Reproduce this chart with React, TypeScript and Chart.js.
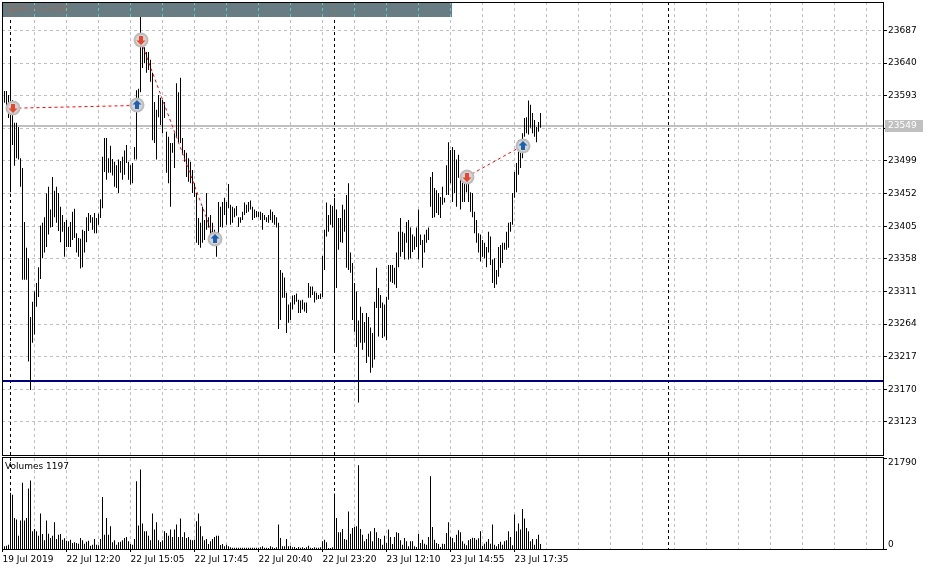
import React, { useEffect, useRef } from "react";
import { Chart, registerables } from "chart.js";

Chart.register(...registerables);

const FONT = "DejaVu Sans";
const FS = 9;

const symbolTitle = "SBRF-9.19,M5";
const volumeTitle = "Volumes 1197";

const highs = [
  23600, 23600, 23594, 23650, 23587, 23554, 23554, 23548, 23503, 23489,
  23411, 23374, 23359, 23274, 23296, 23311, 23323, 23346, 23406, 23410,
  23418, 23452, 23462, 23429, 23476, 23456, 23462, 23453, 23433, 23421,
  23411, 23414, 23404, 23411, 23426, 23430, 23395, 23388, 23387, 23400,
  23398, 23418, 23424, 23421, 23418, 23424, 23417, 23423, 23444, 23505,
  23532, 23532, 23503, 23521, 23502, 23498, 23493, 23501, 23499, 23505,
  23514, 23522, 23498, 23493, 23496, 23519, 23601, 23603, 23709, 23676,
  23663, 23656, 23656, 23645, 23626, 23584, 23573, 23594, 23590, 23587,
  23584, 23541, 23534, 23525, 23525, 23539, 23611, 23598, 23619, 23532,
  23515, 23511, 23503, 23498, 23486, 23467, 23453, 23417, 23410, 23433,
  23414, 23453, 23418, 23421, 23410, 23400, 23385, 23440, 23433, 23440,
  23446, 23440, 23466, 23436, 23433, 23431, 23434, 23418, 23418, 23426,
  23439, 23436, 23440, 23442, 23433, 23429, 23427, 23426, 23426, 23424,
  23421, 23418, 23421, 23429, 23426, 23421, 23418, 23410, 23342, 23338,
  23331, 23309, 23292, 23295, 23305, 23306, 23308, 23299, 23298, 23299,
  23295, 23295, 23323, 23318, 23318, 23311, 23309, 23306, 23308, 23362,
  23400, 23439, 23421, 23436, 23434, 23446, 23429, 23417, 23417, 23436,
  23429, 23450, 23467, 23367, 23352, 23323, 23311, 23269, 23289, 23280,
  23267, 23280, 23274, 23259, 23251, 23296, 23345, 23316, 23306, 23295,
  23292, 23303, 23349, 23349, 23349, 23345, 23367, 23397, 23417, 23397,
  23395, 23411, 23414, 23403, 23393, 23390, 23403, 23429, 23393, 23385,
  23393, 23400, 23403, 23476, 23483, 23460, 23457, 23453, 23447, 23462,
  23446, 23493, 23526, 23515, 23519, 23515, 23501, 23508, 23475, 23476,
  23482, 23476, 23467, 23454, 23453, 23426, 23414, 23395, 23393, 23385,
  23381, 23375, 23397, 23390, 23357, 23359, 23342, 23375, 23378, 23381,
  23381, 23397, 23410, 23411, 23453, 23483, 23496, 23529, 23526, 23539,
  23561, 23562, 23586, 23580, 23568, 23558, 23548, 23555, 23568,
];

const lows = [
  23583, 23573, 23561, 23454, 23522, 23492, 23503, 23501, 23462, 23328,
  23328, 23328, 23210, 23169, 23237, 23249, 23289, 23303, 23329, 23359,
  23367, 23375, 23393, 23403, 23404, 23418, 23410, 23398, 23382, 23397,
  23361, 23375, 23375, 23375, 23385, 23388, 23367, 23361, 23344, 23346,
  23367, 23382, 23398, 23410, 23400, 23395, 23395, 23407, 23417, 23431,
  23483, 23472, 23482, 23482, 23478, 23462, 23460, 23453, 23482, 23472,
  23479, 23496, 23472, 23465, 23467, 23501, 23501, 23570, 23598, 23633,
  23640, 23626, 23630, 23613, 23529, 23525, 23501, 23562, 23551, 23539,
  23561, 23482, 23467, 23433, 23511, 23489, 23532, 23525, 23525, 23508,
  23498, 23476, 23469, 23467, 23453, 23447, 23381, 23378, 23374, 23381,
  23385, 23400, 23403, 23393, 23390, 23381, 23361, 23395, 23404, 23403,
  23421, 23407, 23431, 23407, 23410, 23418, 23420, 23404, 23410, 23414,
  23421, 23424, 23426, 23429, 23414, 23417, 23418, 23418, 23414, 23400,
  23414, 23411, 23410, 23414, 23410, 23407, 23403, 23257, 23270, 23302,
  23302, 23251, 23266, 23270, 23285, 23292, 23296, 23280, 23280, 23285,
  23282, 23280, 23302, 23302, 23306, 23295, 23299, 23300, 23300, 23303,
  23342, 23390, 23397, 23407, 23403, 23223, 23316, 23371, 23382, 23381,
  23397, 23345, 23342, 23338, 23270, 23253, 23231, 23151, 23237, 23227,
  23237, 23208, 23217, 23194, 23201, 23213, 23287, 23246, 23287, 23244,
  23246, 23241, 23299, 23325, 23323, 23321, 23316, 23346, 23361, 23368,
  23357, 23381, 23357, 23359, 23368, 23371, 23375, 23357, 23378, 23345,
  23367, 23381, 23385, 23433, 23417, 23418, 23424, 23421, 23417, 23436,
  23439, 23450, 23450, 23467, 23440, 23453, 23433, 23475, 23429, 23440,
  23440, 23454, 23440, 23426, 23418, 23395, 23381, 23367, 23354, 23361,
  23359, 23346, 23367, 23349, 23323, 23316, 23321, 23332, 23345, 23352,
  23371, 23371, 23374, 23397, 23407, 23446, 23454, 23479, 23489, 23503,
  23534, 23539, 23537, 23547, 23539, 23534, 23526, 23541, 23547,
];

const volumes = [
  640, 800, 1040, 13440, 13000, 7440, 7040, 3200, 6800, 15840,
  6800, 7440, 14480, 16400, 4240, 4800, 4240, 3200, 8480, 3600,
  2080, 6800, 3680, 2640, 3200, 6400, 2400, 3440, 3600, 2240,
  2560, 2000, 1840, 2240, 1440, 1600, 1440, 1280, 2640, 2080,
  1280, 1760, 2000, 800, 1040, 2400, 1040, 880, 2400, 12480,
  3440, 7440, 3440, 5440, 1600, 2080, 1040, 1600, 1760, 2080,
  2640, 2880, 1840, 1200, 1040, 2400, 16240, 5600, 19040, 6080,
  4240, 4240, 3200, 2080, 8480, 4640, 6400, 2080, 1680, 2080,
  4240, 3840, 3200, 4640, 2880, 4640, 5840, 2880, 7280, 2880,
  4000, 2640, 2880, 2240, 2080, 2240, 6640, 8480, 5440, 3040,
  2080, 2400, 1200, 1840, 2400, 2880, 3200, 3200, 960, 1200,
  640, 1040, 640, 400, 320, 320, 320, 320, 320, 320,
  320, 320, 320, 320, 320, 320, 320, 320, 400, 640,
  320, 320, 240, 640, 400, 240, 400, 5840, 2640, 640,
  640, 2400, 640, 800, 400, 480, 240, 480, 320, 400,
  240, 400, 800, 320, 240, 400, 320, 320, 400, 1840,
  2240, 1600, 240, 240, 400, 13280, 7440, 4000, 4000, 4800,
  2400, 2240, 8960, 3680, 5040, 5280, 5440, 20080, 4800, 3440,
  1840, 2400, 3680, 4240, 1840, 5040, 4000, 2640, 2400, 1040,
  3200, 1440, 4640, 2880, 1200, 2880, 4000, 3840, 2080, 1040,
  2640, 1840, 640, 1840, 1840, 640, 480, 3680, 1440, 2240,
  1280, 1040, 2880, 17440, 5280, 2240, 1440, 1200, 480, 1280,
  1200, 3840, 6400, 2880, 2640, 1600, 3440, 4480, 4000, 1840,
  1280, 880, 2080, 2400, 2720, 2640, 2240, 2560, 4240, 800,
  1280, 1760, 2400, 1280, 5840, 1040, 640, 1200, 1760, 1040,
  1840, 2080, 4240, 2880, 880, 8240, 4240, 6080, 4640, 9600,
  7280, 5040, 4240, 1840, 2400, 1040, 2400, 3440, 1197,
];

const priceTicks = [23123, 23170, 23217, 23264, 23311, 23358, 23405, 23452, 23499, 23546, 23593, 23640, 23687];
const volumeMax = 21790;
const timeLabels = ["19 Jul 2019", "22 Jul 12:20", "22 Jul 15:05", "22 Jul 17:45", "22 Jul 20:40", "22 Jul 23:20", "23 Jul 12:10", "23 Jul 14:55", "23 Jul 17:35"];
const timeLabelBars = [-1, 31, 63, 95, 127, 159, 191, 223, 255];
const daySeparators = [3, 165, 332];
const supportLevel = 23182;
const askPrice = 23550;
const bidPrice = 23548;
const lastPrice = 23549;

const tradeOpenBar = [4, 68, 231];
const tradeOpenPrice = [23575, 23673, 23476];
const tradeCloseBar = [66, 105, 259];
const tradeClosePrice = [23579, 23386, 23521];

const X_MIN = -1.25;
const X_MAX = 439.25;
const Y_MIN = 23075.3;
const Y_MAX = 23728.1;
const GRID_START = 15;
const GRID_STEP = 16;

function gridTicks(): number[] {
  const out: number[] = [];
  for (let v = GRID_START; v <= X_MAX; v += GRID_STEP) out.push(v);
  return out;
}

function drawSeparators(chart: any) {
  const { ctx, chartArea: a, scales } = chart;
  ctx.save();
  ctx.strokeStyle = "#000";
  ctx.lineWidth = 1;
  ctx.setLineDash([3, 3]);
  for (const s of daySeparators) {
    const px = Math.floor(scales.x.getPixelForValue(s)) + 0.5;
    ctx.beginPath();
    ctx.moveTo(px, a.top);
    ctx.lineTo(px, a.bottom);
    ctx.stroke();
  }
  ctx.restore();
}

function drawMarker(ctx: CanvasRenderingContext2D, cx: number, cy: number, up: boolean) {
  ctx.save();
  cx = Math.round(cx);
  cy = Math.round(cy);
  ctx.fillStyle = "#bcbcbc";
  ctx.beginPath();
  ctx.arc(cx, cy, 7.5, 0, Math.PI * 2);
  ctx.fill();
  ctx.fillStyle = "#d4d4d4";
  ctx.beginPath();
  ctx.arc(cx, cy, 5.5, 0, Math.PI * 2);
  ctx.fill();
  ctx.fillStyle = up ? "#1b60b2" : "#e8452a";
  ctx.beginPath();
  if (up) {
    ctx.moveTo(cx, cy - 5);
    ctx.lineTo(cx + 4.5, cy - 0.5);
    ctx.lineTo(cx + 2, cy - 0.5);
    ctx.lineTo(cx + 2, cy + 4);
    ctx.lineTo(cx - 2, cy + 4);
    ctx.lineTo(cx - 2, cy - 0.5);
    ctx.lineTo(cx - 4.5, cy - 0.5);
  } else {
    ctx.moveTo(cx, cy + 5);
    ctx.lineTo(cx + 4.5, cy + 0.5);
    ctx.lineTo(cx + 2, cy + 0.5);
    ctx.lineTo(cx + 2, cy - 4);
    ctx.lineTo(cx - 2, cy - 4);
    ctx.lineTo(cx - 2, cy + 0.5);
    ctx.lineTo(cx - 4.5, cy + 0.5);
  }
  ctx.closePath();
  ctx.fill();
  ctx.restore();
}

const mainDecor = {
  id: "mainDecor",
  beforeDatasetsDraw(chart: any) {
    const { ctx, chartArea: a, scales } = chart;
    drawSeparators(chart);
    ctx.save();
    ctx.strokeStyle = "#c0c0c0";
    ctx.lineWidth = 1;
    for (const p of [askPrice, bidPrice]) {
      const py = Math.floor(scales.y.getPixelForValue(p)) + 0.5;
      ctx.beginPath();
      ctx.moveTo(a.left, py);
      ctx.lineTo(a.right, py);
      ctx.stroke();
    }
    ctx.fillStyle = "#000080";
    const sy = Math.round(scales.y.getPixelForValue(supportLevel));
    ctx.fillRect(a.left, sy - 1, a.right - a.left, 2);
    ctx.restore();
  },
  afterDatasetsDraw(chart: any) {
    const { ctx, chartArea: a, scales } = chart;
    const x = scales.x;
    const y = scales.y;
    ctx.save();
    ctx.strokeStyle = "#ff0000";
    ctx.lineWidth = 1;
    ctx.setLineDash([3, 3]);
    for (let k = 0; k < tradeOpenBar.length; k++) {
      ctx.beginPath();
      ctx.moveTo(x.getPixelForValue(tradeOpenBar[k]), y.getPixelForValue(tradeOpenPrice[k]));
      ctx.lineTo(x.getPixelForValue(tradeCloseBar[k]), y.getPixelForValue(tradeClosePrice[k]));
      ctx.stroke();
    }
    ctx.setLineDash([]);
    for (let k = 0; k < tradeOpenBar.length; k++) {
      drawMarker(ctx, x.getPixelForValue(tradeOpenBar[k]), y.getPixelForValue(tradeOpenPrice[k]), false);
      drawMarker(ctx, x.getPixelForValue(tradeCloseBar[k]), y.getPixelForValue(tradeClosePrice[k]), true);
    }
    const bx0 = a.left + 1;
    const bx1 = 452;
    const by0 = a.top + 1;
    const by1 = a.top + 15;
    ctx.fillStyle = "#687c83";
    ctx.fillRect(bx0, by0, bx1 - bx0, by1 - by0);
    ctx.save();
    ctx.beginPath();
    ctx.rect(bx0, by0, bx1 - bx0, by1 - by0);
    ctx.clip();
    ctx.setLineDash([3, 3]);
    ctx.strokeStyle = "#5cc8c8";
    for (const g of gridTicks()) {
      const px = Math.floor(x.getPixelForValue(g)) + 0.5;
      ctx.beginPath();
      ctx.moveTo(px, a.top);
      ctx.lineTo(px, by1);
      ctx.stroke();
    }
    ctx.strokeStyle = "#98705c";
    for (const s of daySeparators) {
      const px = Math.floor(x.getPixelForValue(s)) + 0.5;
      ctx.beginPath();
      ctx.moveTo(px, a.top);
      ctx.lineTo(px, by1);
      ctx.stroke();
    }
    ctx.restore();
    ctx.fillStyle = "#8e6e62";
    ctx.font = `${FS}px "${FONT}"`;
    ctx.textBaseline = "middle";
    ctx.textAlign = "left";
    ctx.fillText(symbolTitle, bx0 + 4, (by0 + by1) / 2);
    ctx.strokeStyle = "#000";
    ctx.lineWidth = 1;
    ctx.strokeRect(a.left + 0.5, a.top + 0.5, a.right - a.left, a.bottom - a.top);
    ctx.restore();
  },
  afterDraw(chart: any) {
    const { ctx, chartArea: a, scales } = chart;
    const py = scales.y.getPixelForValue(lastPrice);
    ctx.save();
    ctx.fillStyle = "#c0c0c0";
    ctx.fillRect(a.right + 2, Math.round(py) - 6, 38, 12);
    ctx.fillStyle = "#ffffff";
    ctx.font = `${FS}px "${FONT}"`;
    ctx.textBaseline = "middle";
    ctx.textAlign = "left";
    ctx.fillText(String(lastPrice), a.right + 5, Math.round(py));
    ctx.restore();
  },
};

const volDecor = {
  id: "volDecor",
  beforeDatasetsDraw(chart: any) {
    drawSeparators(chart);
  },
  afterDatasetsDraw(chart: any) {
    const { ctx, chartArea: a } = chart;
    ctx.save();
    ctx.strokeStyle = "#000";
    ctx.lineWidth = 1;
    ctx.beginPath();
    ctx.moveTo(a.left, 0.5);
    ctx.lineTo(a.right + 1, 0.5);
    ctx.moveTo(a.left + 0.5, 0);
    ctx.lineTo(a.left + 0.5, a.bottom + 1);
    ctx.moveTo(a.left, a.bottom + 0.5);
    ctx.lineTo(a.right + 1, a.bottom + 0.5);
    ctx.moveTo(a.right + 0.5, 0);
    ctx.lineTo(a.right + 0.5, a.bottom + 1);
    ctx.moveTo(a.right, a.top + 0.5);
    ctx.lineTo(a.right + 4, a.top + 0.5);
    ctx.moveTo(a.right, a.bottom + 0.5);
    ctx.lineTo(a.right + 4, a.bottom + 0.5);
    ctx.stroke();
    ctx.fillStyle = "#000";
    ctx.font = `${FS}px "${FONT}"`;
    ctx.textBaseline = "middle";
    ctx.textAlign = "left";
    ctx.fillText(volumeTitle, a.left + 3, a.top + 9);
    ctx.fillText(String(volumeMax), a.right + 5, a.top + 5);
    ctx.fillText("0", a.right + 5, a.bottom - 4);
    ctx.restore();
  },
};

export default function App() {
  const mainRef = useRef<HTMLCanvasElement>(null);
  const volRef = useRef<HTMLCanvasElement>(null);

  useEffect(() => {
    Chart.defaults.font.family = FONT;
    Chart.defaults.font.size = FS;
    const ticksX = gridTicks();

    const main = new Chart(mainRef.current as HTMLCanvasElement, {
      type: "bar",
      data: {
        datasets: [
          {
            data: highs.map((h, i) => ({ x: i, y: [lows[i], h] })) as any,
            backgroundColor: "#000",
            borderWidth: 0,
            barThickness: 1,
            inflateAmount: 0,
          } as any,
        ],
      },
      options: {
        responsive: false,
        animation: false,
        events: [],
        layout: { padding: { left: 2, top: 2, right: 0, bottom: 2 } },
        plugins: { legend: { display: false }, tooltip: { enabled: false } },
        scales: {
          x: {
            type: "linear",
            min: X_MIN,
            max: X_MAX,
            bounds: "data",
            offset: false,
            ticks: { display: false },
            grid: { color: "#c0c0c0", drawTicks: false, offset: false, lineWidth: 1 },
            border: { display: false, dash: [3, 3] },
            afterBuildTicks: (s: any) => {
              s.ticks = ticksX.map((v) => ({ value: v }));
            },
            afterFit: (s: any) => {
              s.height = 0;
              s.paddingLeft = 0;
              s.paddingRight = 0;
            },
          } as any,
          y: {
            position: "right",
            min: Y_MIN,
            max: Y_MAX,
            bounds: "data",
            ticks: {
              color: "#000",
              font: { family: FONT, size: FS },
              padding: 1,
              callback: (v: any) => String(v),
            },
            grid: { color: "#c0c0c0", tickColor: "#000", tickLength: 4, tickBorderDash: [] },
            border: { display: true, color: "#000", dash: [3, 3] },
            afterBuildTicks: (s: any) => {
              s.ticks = priceTicks.map((v) => ({ value: v }));
            },
            afterFit: (s: any) => {
              s.width = 47;
              s.paddingTop = 0;
              s.paddingBottom = 0;
            },
          } as any,
        },
      },
      plugins: [mainDecor],
    });

    const vol = new Chart(volRef.current as HTMLCanvasElement, {
      type: "bar",
      data: {
        datasets: [
          {
            data: volumes.map((v, i) => ({ x: i, y: v })) as any,
            backgroundColor: "#000",
            borderWidth: 0,
            barThickness: 1,
            inflateAmount: 0,
          } as any,
        ],
      },
      options: {
        responsive: false,
        animation: false,
        events: [],
        layout: { padding: { left: 2, top: 1, right: 0, bottom: 0 } },
        plugins: { legend: { display: false }, tooltip: { enabled: false } },
        scales: {
          x: {
            type: "linear",
            min: X_MIN,
            max: X_MAX,
            bounds: "data",
            offset: false,
            ticks: {
              display: true,
              autoSkip: false,
              maxRotation: 0,
              minRotation: 0,
              align: "start",
              padding: 2,
              color: "#000",
              font: { family: FONT, size: FS },
              callback: (v: any) => {
                const k = timeLabelBars.indexOf(Number(v));
                return k >= 0 ? timeLabels[k] : "";
              },
            },
            grid: {
              color: "#c0c0c0",
              offset: false,
              drawTicks: true,
              tickLength: 3,
              tickBorderDash: [],
              tickColor: (c: any) =>
                c.tick && timeLabelBars.includes(c.tick.value) ? "#000" : "rgba(0,0,0,0)",
            },
            border: { display: false, dash: [3, 3] },
            afterBuildTicks: (s: any) => {
              s.ticks = [timeLabelBars[0], ...ticksX].map((v) => ({ value: v }));
            },
            afterFit: (s: any) => {
              s.height = 22;
              s.paddingLeft = 0;
              s.paddingRight = 0;
            },
          } as any,
          y: {
            position: "right",
            min: 0,
            max: volumeMax,
            bounds: "data",
            ticks: { display: false },
            grid: { display: false },
            border: { display: true, color: "#000" },
            afterFit: (s: any) => {
              s.width = 47;
              s.paddingTop = 0;
              s.paddingBottom = 0;
            },
          } as any,
        },
      },
      plugins: [volDecor],
    });

    return () => {
      main.destroy();
      vol.destroy();
    };
  }, []);

  return (
    <div style={{ position: "fixed", left: 0, top: 0, width: 930, height: 571, background: "#fff" }}>
      <div style={{ position: "absolute", left: 0, top: 0, width: 930, height: 457 }}>
        <canvas ref={mainRef} width={930} height={457} style={{ width: 930, height: 457, display: "block" }} />
      </div>
      <div style={{ position: "absolute", left: 0, top: 457, width: 930, height: 114 }}>
        <canvas ref={volRef} width={930} height={114} style={{ width: 930, height: 114, display: "block" }} />
      </div>
    </div>
  );
}
